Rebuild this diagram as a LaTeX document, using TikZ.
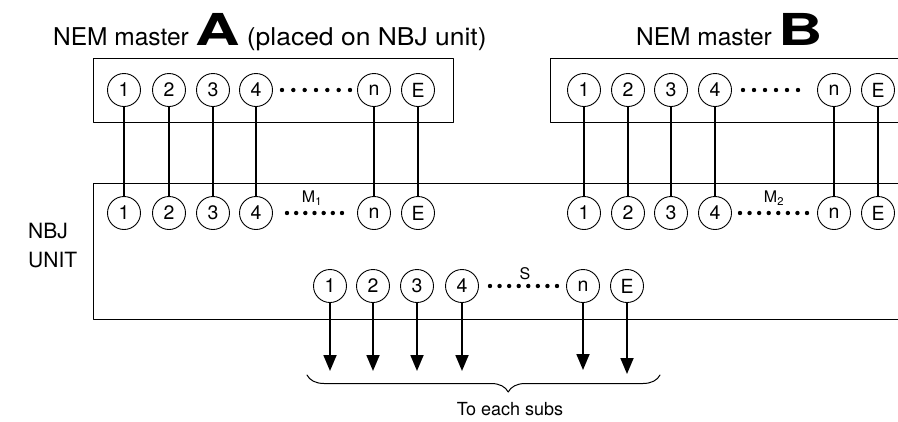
\documentclass[tikz,border=0pt]{standalone}
\usepackage{fontspec}
\setmainfont{TeX Gyre Heros}
\usepackage{graphicx}
\usetikzlibrary{calc}
\usetikzlibrary{arrows.meta}
\usetikzlibrary{decorations.pathreplacing}

\newcommand{\bigletter}[1]{\scalebox{1.4}[1]{\fontsize{44}{44}\selectfont\bfseries #1}}

\begin{document}
\begin{tikzpicture}[
  x=1pt, y=-1pt,
  line cap=round,
  line join=round,
  >=Triangle,
  frame/.style={line width=1pt},
  pin/.style={draw, circle, line width=0.9pt, minimum size=33pt, inner sep=0pt,
    font=\fontsize{19.5}{19.5}\selectfont},
  wire/.style={line width=1.8pt},
  feed/.style={-{Triangle[length=16pt,width=13pt]}, line width=1.8pt},
  title/.style={anchor=base west, inner sep=0pt, font=\fontsize{24.5}{24.5}\selectfont},
  tag/.style={inner sep=0pt, font=\fontsize{16}{16}\selectfont}
]

\useasboundingbox (0,0) rectangle (898,421);

% titles
\node [title] (titleA) at (53,45) {NEM master \bigletter{A} \scalebox{1.08}[1]{(placed on NBJ unit)}};
\node [title] (titleB) at (636,45) {NEM master \bigletter{B}};
\node [title, align=left, font=\fontsize{21}{29}\selectfont] (unit) at (28,267) {NBJ\\UNIT};

% boxes (B and the unit run off the right edge)
\draw [frame] (93,58) rectangle (453,122);
\draw [frame] (898,58) -- (550,58) -- (550,122) -- (898,122);
\draw [frame] (898,183) -- (93,183) -- (93,319) -- (898,319);

% pins of master A, master B, and the unit side
\foreach \lab/\xa/\xb [count=\i] in {1/124/584,2/169/628,3/213/671,4/256/715,n/374/834,E/418/878} {
  \node [pin] (ta\i) at (\xa,90) {\lab};
  \node [pin] (tb\i) at (\xb,90) {\lab};
  \node [pin] (ua\i) at (\xa,213) {\lab};
  \node [pin] (ub\i) at (\xb,213) {\lab};
}
\foreach \lab/\x [count=\i] in {1/330,2/373,3/417,4/462,n/583,E/627} {
  \node [pin] (s\i) at (\x,286) {\lab};
}

% dotted runs between 4 and n
\foreach \xa/\xb/\yy/\nn in {282/350/90/6, 743/798/90/5, 287/342/213/6, 740/807/213/7, 490/557/286/7} {
  \foreach \k in {0,...,\nn}
    \fill ({\xa+(\xb-\xa)*\k/\nn},\yy) circle[radius=2.2];
}

\node [tag] (m1) at (312,198) {M\textsubscript{1}};
\node [tag] (m2) at (774,198) {M\textsubscript{2}};
\node [tag] (sub) at (525,274) {S};

% plug wires
\foreach \i in {1,...,6} {
  \draw [wire] (ta\i) -- (ua\i);
  \draw [wire] (tb\i) -- (ub\i);
}

% feeds to the subs
\foreach \x/\tip [count=\i] in {330/371,373/371,417/371,462/371,583/370,627/374} {
  \coordinate (o\i) at (\x,\tip);
  \draw [feed] (s\i) -- (o\i);
}

\draw [frame, decorate, decoration={brace, mirror, amplitude=17pt, aspect=0.57}] (307,375) -- (660,375);
\node [inner sep=0pt, font=\fontsize{18}{18}\selectfont] (subs) at (510,409) {To each subs};

\end{tikzpicture}
\end{document}
